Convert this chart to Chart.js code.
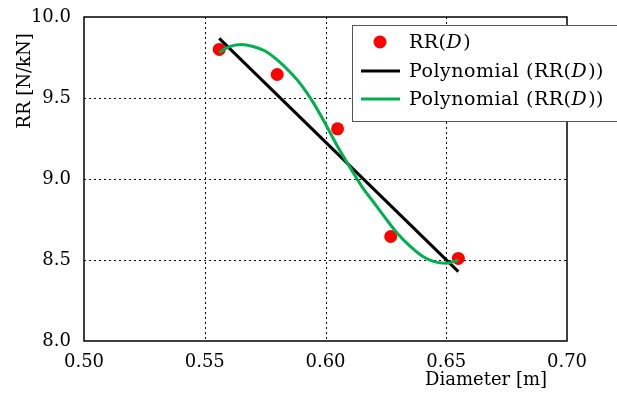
<!DOCTYPE html>
<html>
<head>
<meta charset="utf-8">
<script src="https://cdn.jsdelivr.net/npm/chart.js@4/dist/chart.umd.min.js"></script>
<style>
  html, body { margin: 0; padding: 0; background: #fff; }
  #wrap { width: 617px; height: 396px; }
</style>
</head>
<body>
<div id="wrap"><canvas id="rrChart" width="617" height="396"></canvas></div>
<script>
// measured points RR(D)
const diameters = [0.556, 0.580, 0.605, 0.627, 0.655];
const rrValues = [9.80, 9.645, 9.31, 8.645, 8.51];

// linear fit
const linX = [0.556, 0.655];
const linY = [9.868, 8.428];

// higher order fit
const curveX = [0.556, 0.560, 0.565, 0.570, 0.575, 0.580, 0.585, 0.590, 0.595, 0.600, 0.605,
                0.610, 0.615, 0.620, 0.625, 0.630, 0.635, 0.640, 0.645, 0.650, 0.655];
const curveY = [9.78, 9.815, 9.830, 9.818, 9.79, 9.735, 9.665, 9.58, 9.47, 9.34, 9.20,
                9.075, 8.955, 8.855, 8.755, 8.66, 8.585, 8.525, 8.49, 8.48, 8.50];

const xTicks = [0.50, 0.55, 0.60, 0.65, 0.70];
const yTicks = [8.0, 8.5, 9.0, 9.5, 10.0];
const legendLabels = ['RR(D)', 'Polynomial (RR(D))', 'Polynomial (RR(D))'];

const FONT = '"DejaVu Serif", "Liberation Serif", serif';
const FSIZE = 18;
const GREEN = '#00b04f';

const toPts = (xs, ys) => xs.map((x, i) => ({ x: x, y: ys[i] }));

// draws text where every "D" is italic (math D)
function drawMathText(ctx, text, x, y, size) {
    const parts = text.split('D');
    let cx = x;
    parts.forEach((p, i) => {
        ctx.font = size + 'px ' + FONT;
        ctx.fillText(p, cx, y);
        cx += ctx.measureText(p).width;
        if (i < parts.length - 1) {
            ctx.font = 'italic ' + size + 'px ' + FONT;
            ctx.fillText('D', cx, y);
            cx += ctx.measureText('D').width + 1;
        }
    });
}

// dotted grid, drawn from the scales before the data
const gridPlugin = {
    id: 'dottedGrid',
    beforeDatasetsDraw(chart) {
        const ctx = chart.ctx;
        const a = chart.chartArea;
        const xs = chart.scales.x, ys = chart.scales.y;
        ctx.save();
        ctx.strokeStyle = '#000';
        ctx.lineWidth = 1;
        ctx.setLineDash([2, 3]);
        xTicks.slice(1, -1).forEach(v => {
            const px = Math.round(xs.getPixelForValue(v)) + 0.5;
            ctx.beginPath();
            ctx.moveTo(px, a.top);
            ctx.lineTo(px, a.bottom);
            ctx.stroke();
        });
        yTicks.slice(1, -1).forEach(v => {
            const py = Math.round(ys.getPixelForValue(v)) + 0.5;
            ctx.beginPath();
            ctx.moveTo(a.left, py);
            ctx.lineTo(a.right, py);
            ctx.stroke();
        });
        ctx.restore();
    }
};

const framePlugin = {
    id: 'frame',
    afterDraw(chart) {
        const ctx = chart.ctx;
        const a = chart.chartArea;
        ctx.save();
        // axes frame
        ctx.strokeStyle = '#000';
        ctx.lineWidth = 1.5;
        ctx.strokeRect(a.left, a.top, a.right - a.left, a.bottom - a.top);

        // axis titles
        ctx.fillStyle = '#000';
        ctx.font = FSIZE + 'px ' + FONT;
        ctx.textBaseline = 'middle';
        ctx.textAlign = 'right';
        ctx.fillText('Diameter [m]', 547, 380);
        ctx.save();
        ctx.translate(25, 81);
        ctx.rotate(-Math.PI / 2);
        ctx.textAlign = 'center';
        ctx.fillText('RR [N/kN]', 0, 0);
        ctx.restore();

        // legend
        ctx.fillStyle = '#fff';
        ctx.fillRect(352, 25, 290, 96);
        ctx.strokeStyle = '#555';
        ctx.lineWidth = 1;
        ctx.strokeRect(352.5, 25.5, 290, 96);
        const rows = [42, 71, 99];
        const dsets = chart.data.datasets;
        rows.forEach((ry, i) => {
            const ds = dsets[i];
            if (ds.showLine) {
                ctx.strokeStyle = ds.borderColor;
                ctx.lineWidth = 3;
                ctx.beginPath();
                ctx.moveTo(361, ry);
                ctx.lineTo(400, ry);
                ctx.stroke();
            } else {
                ctx.fillStyle = ds.backgroundColor;
                ctx.beginPath();
                ctx.arc(380, ry, 6.5, 0, Math.PI * 2);
                ctx.fill();
            }
            ctx.fillStyle = '#000';
            ctx.textAlign = 'left';
            ctx.textBaseline = 'middle';
            ctx.letterSpacing = '0.5px';
            drawMathText(ctx, legendLabels[i], 409, ry + 1, 19);
        });
        ctx.restore();
    }
};

const ctx = document.getElementById('rrChart').getContext('2d');
new Chart(ctx, {
    type: 'scatter',
    data: {
        datasets: [
            {
                label: legendLabels[0],
                data: toPts(diameters, rrValues),
                backgroundColor: '#ff0000',
                borderColor: '#ff0000',
                pointRadius: 6.5,
                pointBorderWidth: 0,
                showLine: false,
                order: 2
            },
            {
                label: legendLabels[1],
                data: toPts(linX, linY),
                borderColor: '#000',
                backgroundColor: '#000',
                borderWidth: 3,
                pointRadius: 0,
                showLine: true,
                order: 1
            },
            {
                label: legendLabels[2],
                data: toPts(curveX, curveY),
                borderColor: GREEN,
                backgroundColor: GREEN,
                borderWidth: 3,
                pointRadius: 0,
                showLine: true,
                cubicInterpolationMode: 'monotone',
                order: 0
            }
        ]
    },
    options: {
        responsive: false,
        animation: false,
        layout: { padding: { left: 0, top: 17, right: 50, bottom: 0 } },
        plugins: {
            legend: { display: false },
            tooltip: { enabled: false }
        },
        scales: {
            x: {
                type: 'linear',
                min: 0.50,
                max: 0.70,
                afterBuildTicks: s => { s.ticks = xTicks.map(v => ({ value: v })); },
                afterFit: s => { s.height = 55; },
                ticks: {
                    color: '#000',
                    font: { family: FONT, size: FSIZE },
                    padding: 3,
                    maxRotation: 0,
                    callback: v => v.toFixed(2)
                },
                grid: { display: false },
                border: { display: false }
            },
            y: {
                type: 'linear',
                min: 8.0,
                max: 10.0,
                afterBuildTicks: s => { s.ticks = yTicks.map(v => ({ value: v })); },
                afterFit: s => { s.width = 84; },
                ticks: {
                    color: '#000',
                    font: { family: FONT, size: FSIZE },
                    padding: 5,
                    callback: v => v.toFixed(1)
                },
                grid: { display: false },
                border: { display: false }
            }
        }
    },
    plugins: [gridPlugin, framePlugin]
});
</script>
</body>
</html>
